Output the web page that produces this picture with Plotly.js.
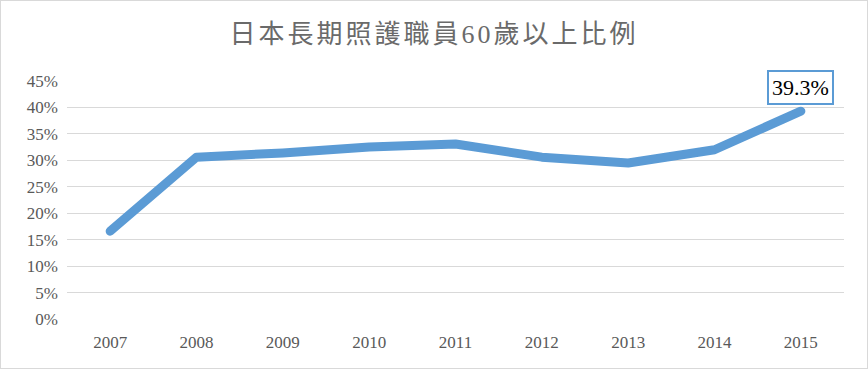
<!DOCTYPE html>
<html><head><meta charset="utf-8">
<script src="https://cdn.plot.ly/plotly-3.0.1.min.js"></script>
<style>html,body{margin:0;padding:0;background:#fff}#c{width:868px;height:369px;box-sizing:border-box;border:1px solid #d9d9d9}
#c .js-line{stroke-linecap:round;stroke-linejoin:round}
#c .gtitle{letter-spacing:3px}</style>
</head><body><div id="c"></div>
<script>
const years = [2007, 2008, 2009, 2010, 2011, 2012, 2013, 2014, 2015];
const ratio = [0.166, 0.306, 0.314, 0.325, 0.331, 0.306, 0.295, 0.320, 0.393];
const titleText = '日本長期照護職員60歲以上比例';
const labelText = '39.3%';

const cjk = 'Liberation Serif, Noto Sans CJK TC, serif';
const serif = 'Liberation Serif, serif';
const trace = {
  x: years, y: ratio, type: 'scatter', mode: 'lines',
  line: {color: '#5b9bd5', width: 9, shape: 'linear'},
  hoverinfo: 'none'
};
const layout = {
  width: 866, height: 367,
  margin: {l: 66, r: 23, t: 80, b: 49},
  paper_bgcolor: '#fff', plot_bgcolor: '#fff',
  showlegend: false,
  title: {text: titleText, font: {family: cjk, size: 26, color: '#6a6a6a'}, x: 0.5, xanchor: 'center', y: 0.91, yanchor: 'middle'},
  xaxis: {type: 'linear', range: [years[0] - 0.5, years[years.length-1] + 0.5], dtick: 1, tickformat: 'd',
    showgrid: false, zeroline: false, showline: false, ticks: '', ticklabelstandoff: 11,
    tickfont: {family: serif, size: 17, color: '#595959'}, fixedrange: true},
  yaxis: {range: [0, 0.45], dtick: 0.05, tickformat: '.0%', showgrid: true, gridcolor: '#d9d9d9', gridwidth: 1,
    zeroline: false, showline: false, ticks: '', ticklabelstandoff: 8,
    tickfont: {family: serif, size: 17, color: '#595959'}, fixedrange: true},
  annotations: [{x: years[years.length-1], y: ratio[ratio.length-1], xref: 'x', yref: 'y', text: labelText,
    showarrow: false, yshift: 24, font: {family: serif, size: 22, color: '#000'},
    bordercolor: '#5b9bd5', borderwidth: 2, borderpad: 3, bgcolor: '#fff'}]
};
Plotly.newPlot('c', [trace], layout, {displayModeBar: false, staticPlot: true});
</script></body></html>
